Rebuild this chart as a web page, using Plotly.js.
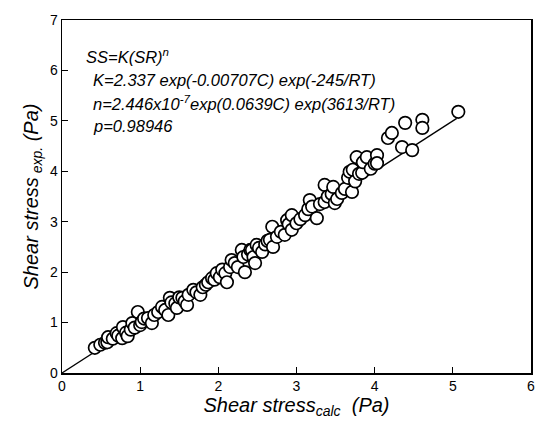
<!DOCTYPE html>
<html>
<head>
<meta charset="utf-8">
<script src="https://cdn.plot.ly/plotly-3.0.1.min.js"></script>
<style>html,body{margin:0;padding:0;background:#fff;}#chart{width:536px;height:422px;}</style>
</head>
<body>
<div id="chart"></div>
<script>
const calcStress = [0.42,0.49,0.55,0.58,0.59,0.65,0.70,0.72,0.77,0.78,0.82,0.84,0.88,0.90,0.93,0.97,1.00,1.02,1.05,1.10,1.15,1.18,1.23,1.28,1.32,1.36,1.38,1.40,1.45,1.47,1.50,1.54,1.57,1.60,1.62,1.68,1.72,1.77,1.80,1.84,1.87,1.92,1.95,1.98,2.02,2.05,2.09,2.11,2.15,2.17,2.21,2.25,2.30,2.32,2.34,2.38,2.41,2.43,2.45,2.47,2.49,2.52,2.56,2.60,2.63,2.66,2.69,2.70,2.75,2.80,2.85,2.88,2.90,2.94,2.94,3.00,3.05,3.11,3.15,3.17,3.20,3.26,3.30,3.36,3.36,3.40,3.45,3.47,3.49,3.52,3.58,3.62,3.66,3.68,3.71,3.72,3.75,3.77,3.80,3.84,3.85,3.90,3.95,4.00,4.03,4.03,4.17,4.22,4.35,4.39,4.48,4.61,4.61,5.07];
const expStress = [0.50,0.56,0.60,0.61,0.71,0.68,0.79,0.74,0.69,0.91,0.80,0.73,0.86,0.99,0.90,1.21,0.95,1.01,1.08,1.09,0.99,1.15,1.21,1.31,1.25,1.15,1.49,1.40,1.38,1.29,1.50,1.49,1.42,1.35,1.55,1.65,1.60,1.55,1.70,1.75,1.80,1.88,1.85,1.98,1.90,2.05,1.98,1.80,2.10,2.24,2.18,2.10,2.44,2.30,2.00,2.35,2.44,2.44,2.30,2.18,2.54,2.48,2.40,2.55,2.62,2.64,2.90,2.50,2.70,2.80,2.74,3.03,2.95,3.13,2.84,2.97,3.05,3.13,3.25,3.43,3.30,3.07,3.35,3.39,3.73,3.50,3.55,3.69,3.37,3.45,3.57,3.65,3.87,3.99,3.59,4.03,3.80,4.28,3.95,3.97,4.18,4.28,4.05,4.15,4.32,4.16,4.66,4.76,4.48,4.96,4.42,5.02,4.86,5.18];
const lineX = [0, 5.05];
const lineY = [0, 5.05];
const xTicks = [0,1,2,3,4,5,6];
const yTicks = [0,1,2,3,4,5,6,7];
const eqLines = [
  "SS=K(SR)<sup>n</sup>",
  "K=2.337 exp(-0.00707C) exp(-245/RT)",
  "n=2.446x10<sup>-7</sup>exp(0.0639C) exp(3613/RT)",
  "p=0.98946"
];

const FONT = "Liberation Sans, Arial, sans-serif";
const traces = [
  {x: lineX, y: lineY, mode: "lines", line: {color: "#000", width: 1.3}, hoverinfo: "skip"},
  {x: calcStress, y: expStress, mode: "markers",
   marker: {symbol: "circle", size: 12.5, color: "#fff", line: {color: "#000", width: 1.7}}}
];
const eqX = [0.046, 0.061, 0.061, 0.061];
const eqY = [0.898, 0.830, 0.765, 0.700];
const annotations = eqLines.map((t, i) => ({
  text: "<i>" + t + "</i>", xref: "paper", yref: "paper", x: eqX[i], y: eqY[i],
  xanchor: "left", yanchor: "middle", showarrow: false,
  font: {family: FONT, size: 16.5, color: "#000"}
}));
const layout = {
  width: 536, height: 422,
  margin: {l: 62, r: 5, t: 20, b: 49},
  paper_bgcolor: "#fff", plot_bgcolor: "#fff",
  showlegend: false,
  font: {family: FONT, color: "#000"},
  xaxis: {range: [0, 6], tickvals: xTicks, ticktext: xTicks.map(String),
    ticks: "inside", ticklen: 6, tickwidth: 1.2, tickcolor: "#000",
    showline: true, mirror: true, linecolor: "#000", linewidth: 1.5,
    showgrid: false, zeroline: false, tickfont: {size: 14, family: FONT},
    title: {text: "<i>Shear stress<sub>calc</sub>  (Pa)</i>", font: {size: 20, family: FONT}, standoff: 4}},
  yaxis: {range: [0, 7], tickvals: yTicks, ticktext: yTicks.map(String),
    ticks: "inside", ticklen: 6, tickwidth: 1.2, tickcolor: "#000",
    showline: true, mirror: true, linecolor: "#000", linewidth: 1.5,
    showgrid: false, zeroline: false, tickfont: {size: 14, family: FONT},
    title: {text: "<i>Shear stress<sub> exp.</sub> (Pa)</i>", font: {size: 20, family: FONT}, standoff: 6}},
  annotations: annotations
};
Plotly.newPlot("chart", traces, layout, {displayModeBar: false, staticPlot: true});
</script>
</body>
</html>
